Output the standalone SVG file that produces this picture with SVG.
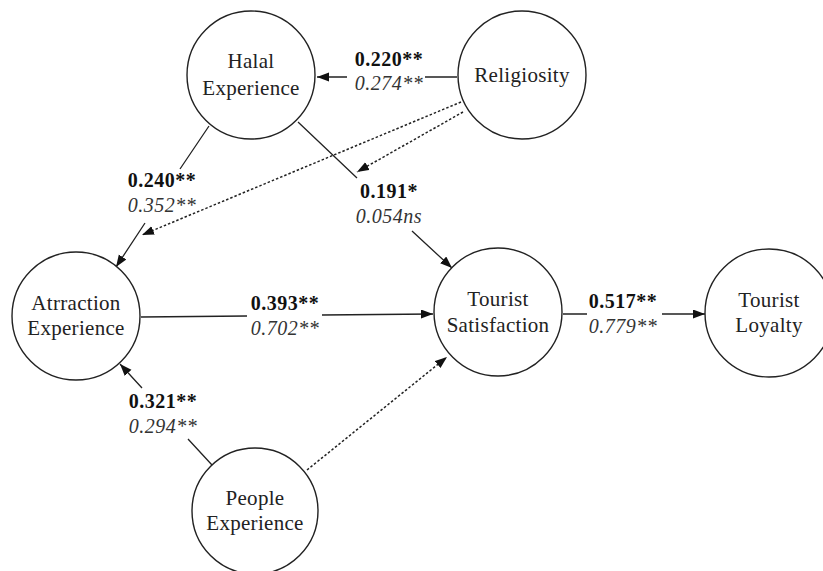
<svg xmlns="http://www.w3.org/2000/svg" width="823" height="571" viewBox="0 0 823 571">
<style>
.node{fill:#fff;stroke:#222;stroke-width:1.4}
.nt{font-family:"Liberation Serif","Times New Roman",serif;font-size:21px;fill:#222;text-anchor:middle;letter-spacing:0.3px}
.c{fill:none;stroke:#222;stroke-width:1.3}
.d{fill:none;stroke:#222;stroke-width:1.5;stroke-dasharray:2.5 2}
.lb{font-family:"Liberation Serif","Times New Roman",serif;font-size:20px;font-weight:bold;fill:#111;text-anchor:middle;letter-spacing:0.5px}
.li{font-family:"Liberation Serif","Times New Roman",serif;font-size:20px;font-style:italic;fill:#333;text-anchor:middle;letter-spacing:0.5px}
</style>
<defs>
<marker id="ah" markerUnits="userSpaceOnUse" markerWidth="13" markerHeight="10" refX="12" refY="4.5" orient="auto">
<path d="M0,0 L12,4.5 L0,9 z" fill="#111"/>
</marker>
</defs>
<rect width="823" height="571" fill="#fff"/>
<g id="connectors">
<path class="c" d="M457,77 L425,77 M347,77 L317,77" marker-end="url(#ah)"/>
<path class="c" d="M209,126 L180,169 M145,223 L116,267" marker-end="url(#ah)"/>
<path class="c" d="M298,122 L357,178 M412,231 L452,268" marker-end="url(#ah)"/>
<path class="d" d="M461,102 L142,235" marker-end="url(#ah)"/>
<path class="d" d="M463,112 L357,172" marker-end="url(#ah)"/>
<path class="c" d="M141,317 L247,316 M322,315 L433,314" marker-end="url(#ah)"/>
<path class="c" d="M563,314 L587,314 M662,314 L705,314" marker-end="url(#ah)"/>
<path class="c" d="M212,465 L188,439 M142,388 L120,364" marker-end="url(#ah)"/>
<path class="d" d="M307,470 L447,357" marker-end="url(#ah)"/>
</g>
<g id="labels">
<text class="lb" x="389" y="66">0.220**</text>
<text class="li" x="389" y="90">0.274**</text>
<text class="lb" x="162" y="187">0.240**</text>
<text class="li" x="162" y="212">0.352**</text>
<text class="lb" x="389" y="198">0.191*</text>
<text class="li" x="389" y="223">0.054ns</text>
<text class="lb" x="285" y="310">0.393**</text>
<text class="li" x="285" y="335">0.702**</text>
<text class="lb" x="623" y="308">0.517**</text>
<text class="li" x="623" y="333">0.779**</text>
<text class="lb" x="163" y="408">0.321**</text>
<text class="li" x="163" y="433">0.294**</text>
</g>
<g id="halal">
<circle class="node" cx="251" cy="75" r="64"/>
<text class="nt" x="251" y="68">Halal</text>
<text class="nt" x="251" y="95">Experience</text>
</g>
<g id="religiosity">
<circle class="node" cx="522" cy="75" r="64"/>
<text class="nt" x="522" y="82">Religiosity</text>
</g>
<g id="attraction">
<circle class="node" cx="76" cy="316" r="64"/>
<text class="nt" x="76" y="310">Atrraction</text>
<text class="nt" x="76" y="335">Experience</text>
</g>
<g id="satisfaction">
<circle class="node" cx="498" cy="312" r="64"/>
<text class="nt" x="498" y="306">Tourist</text>
<text class="nt" x="498" y="332">Satisfaction</text>
</g>
<g id="loyalty">
<circle class="node" cx="769" cy="313" r="64"/>
<text class="nt" x="769" y="307">Tourist</text>
<text class="nt" x="769" y="332">Loyalty</text>
</g>
<g id="people">
<circle class="node" cx="255" cy="511" r="63"/>
<text class="nt" x="255" y="505">People</text>
<text class="nt" x="255" y="530">Experience</text>
</g>
</svg>
